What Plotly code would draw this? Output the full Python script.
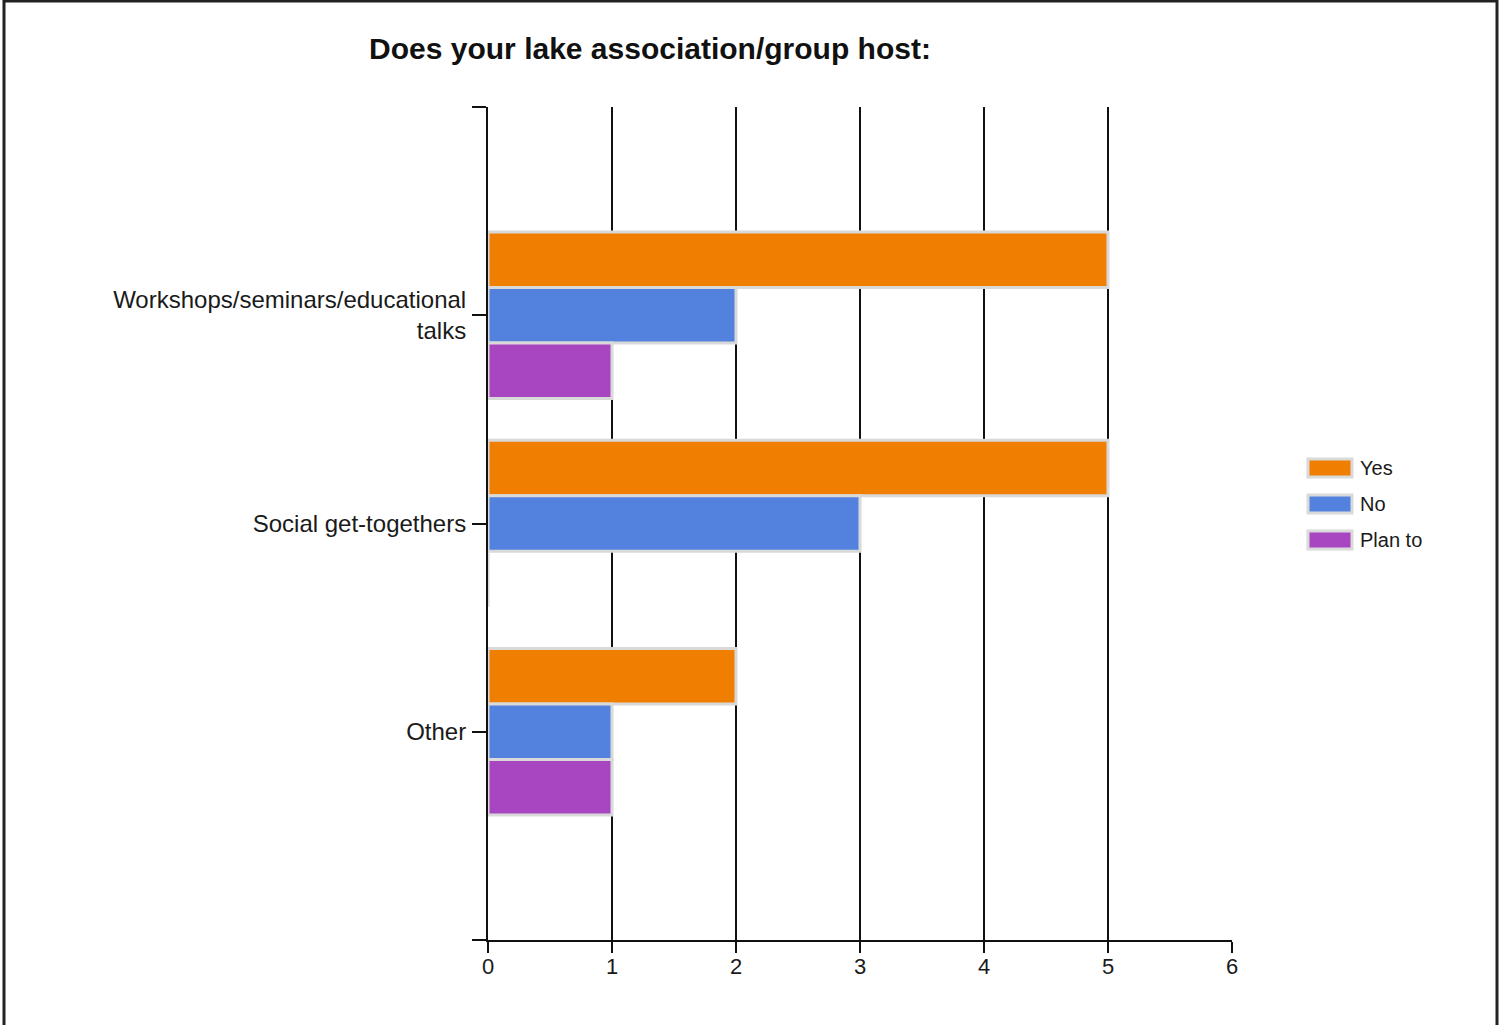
import plotly.graph_objects as go

categories = ["Workshops/seminars/educational<br>talks", "Social get-togethers", "Other"]
series_names = ["Yes", "No", "Plan to"]
yes_values = [5, 5, 2]
no_values = [2, 3, 1]
plan_values = [1, 0, 1]
x_ticks = [0, 1, 2, 3, 4, 5, 6]
title_text = "Does your lake association/group host:"

colors = ["#F07E00", "#5282DD", "#A845C1"]
series_values = [yes_values, no_values, plan_values]

FONT = "Liberation Sans, Arial, sans-serif"

fig = go.Figure()
for name, vals, col in zip(series_names, series_values, colors):
    fig.add_trace(go.Bar(
        y=list(range(len(categories))), x=vals, name=name, orientation="h",
        marker=dict(color=col, line=dict(color="#D9D9D9", width=3)),
        showlegend=False,
    ))

W, H = 1500, 1025
L, R, T, B = 488, 1232, 107, 940
pw, ph = R - L, B - T

def px(x):
    return (x - L) / pw

def py(y):
    return (B - y) / ph

shapes = []
annotations = []
# custom legend
for i, (name, col) in enumerate(zip(series_names, colors)):
    cy = 468 + 36 * i
    shapes.append(dict(type="rect", xref="paper", yref="paper",
                       x0=px(1308), x1=px(1352), y0=py(cy + 9), y1=py(cy - 9),
                       fillcolor=col, line=dict(color="#DADADA", width=3)))
    annotations.append(dict(xref="paper", yref="paper", x=px(1358), y=py(cy),
                            xanchor="left", yanchor="middle", text=name, showarrow=False,
                            font=dict(family=FONT, size=20, color="#1a1a1a")))
# outer frame
shapes.append(dict(type="rect", xref="paper", yref="paper",
                   x0=px(4), x1=px(1497), y0=py(1040), y1=py(1),
                   line=dict(color="#222222", width=3), fillcolor="rgba(0,0,0,0)", layer="below"))

fig.update_layout(
    width=W, height=H,
    margin=dict(l=L, r=W - R, t=T, b=H - B, pad=0),
    paper_bgcolor="white", plot_bgcolor="white",
    barmode="group", bargap=0.2, bargroupgap=0,
    title=dict(text="<b>" + title_text + "</b>", x=650 / W, xref="container", xanchor="center",
               y=1 - 48 / H, yref="container", yanchor="middle",
               font=dict(family=FONT, size=30, color="#111111")),
    font=dict(family=FONT, color="#1a1a1a"),
    shapes=shapes, annotations=annotations,
    xaxis=dict(range=[0, 6], tickvals=x_ticks, ticktext=[str(t) for t in x_ticks],
               showgrid=True, gridcolor="#111111", gridwidth=2,
               showline=True, linecolor="#111111", linewidth=2,
               ticks="outside", ticklen=11, tickwidth=2, tickcolor="#111111",
               zeroline=False, ticklabelstandoff=-5,
               tickfont=dict(family=FONT, size=22, color="#1a1a1a"),
               fixedrange=True),
    yaxis=dict(range=[2 + 1.0, -1.0], tickmode="array",
               tickvals=[-1, 0, 1, 2, 3], ticktext=[""] + categories + [""],
               showgrid=False, showline=True, linecolor="#111111", linewidth=2,
               ticks="outside", ticklen=14, tickwidth=2, tickcolor="#111111",
               zeroline=False, ticklabelstandoff=1,
               tickfont=dict(family=FONT, size=24, color="#1a1a1a"), fixedrange=True),
)

fig.write_html("out.html", config={"displayModeBar": False},
               post_script="document.body.style.margin='0';")
